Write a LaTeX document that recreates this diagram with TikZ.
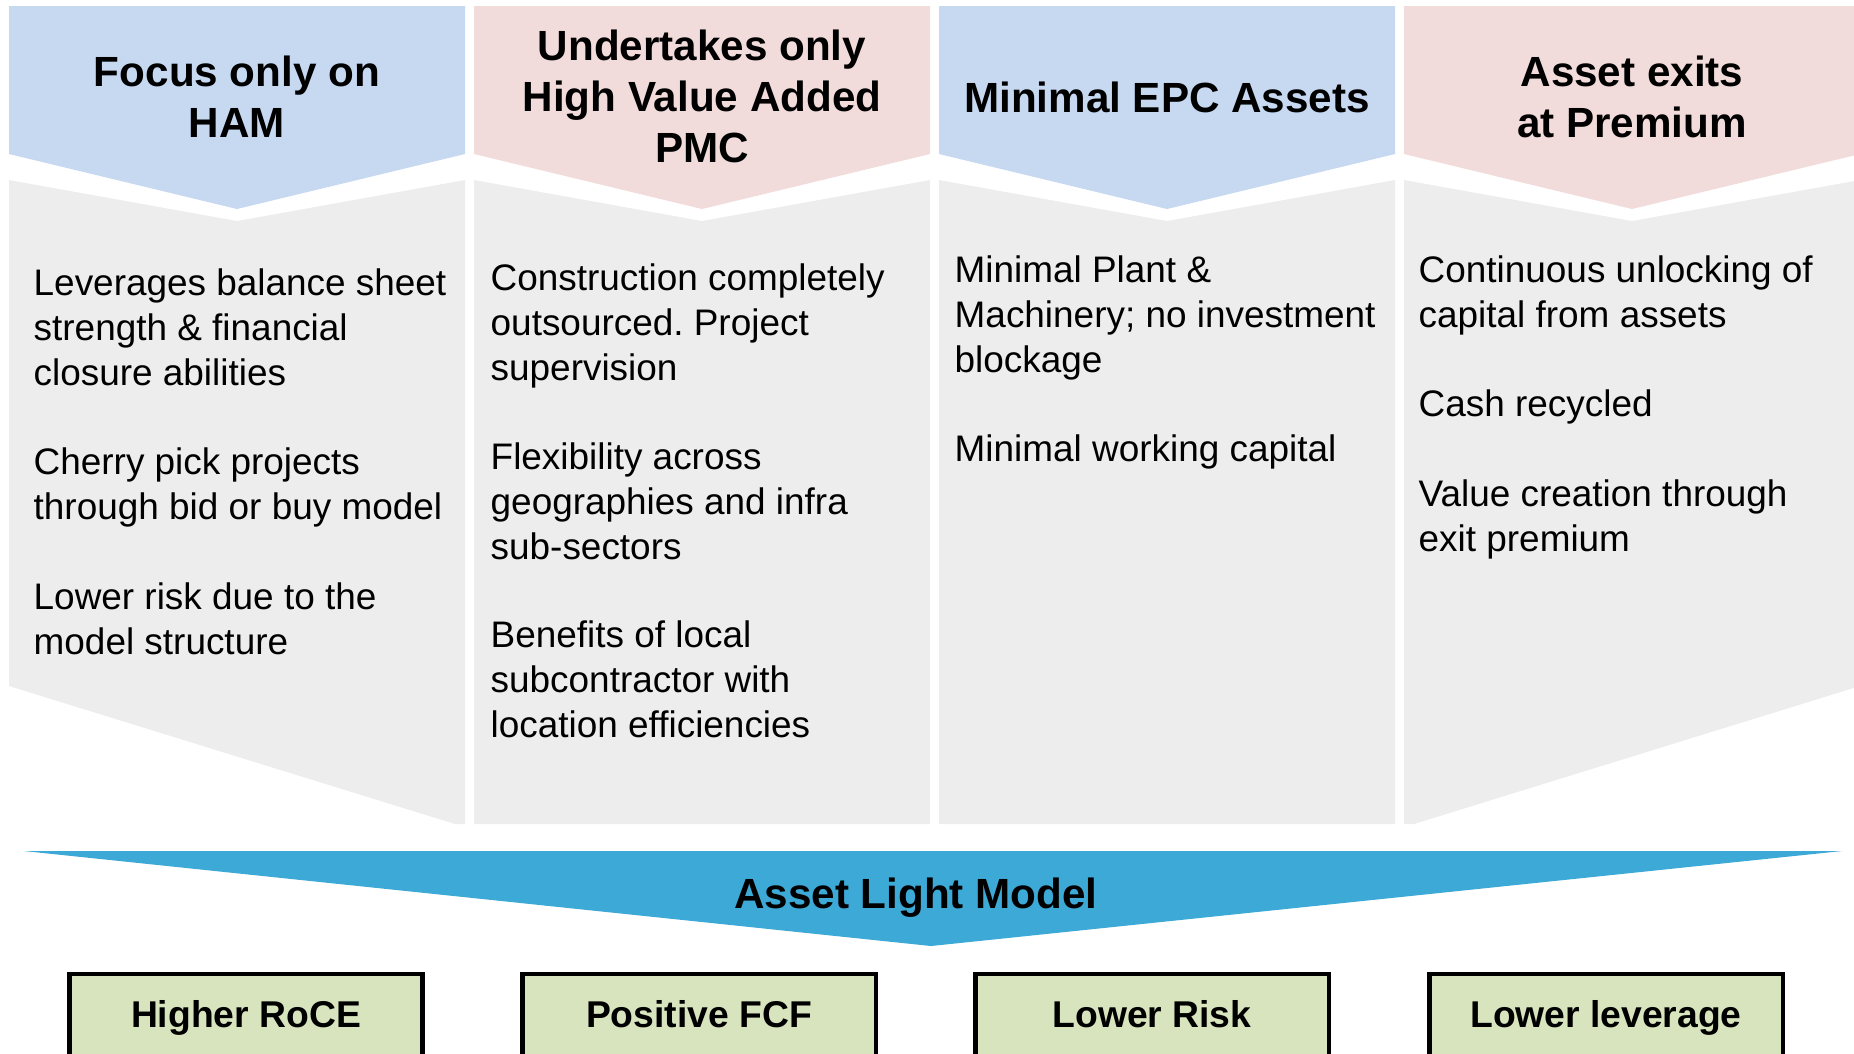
\documentclass[tikz,border=0pt]{standalone}
\usepackage{fontspec}
\setmainfont{Liberation Sans}

\begin{document}
\frenchspacing
\begin{tikzpicture}[x=0.01cm, y=-0.01cm]

\definecolor{headblue}{RGB}{198, 217, 241}
\definecolor{headpink}{RGB}{242, 220, 219}
\definecolor{panelgrey}{RGB}{237, 237, 237}
\definecolor{modelblue}{RGB}{61, 169, 214}
\definecolor{boxgreen}{RGB}{215, 228, 189}

\tikzset{
    headtext/.style={
        font=\bfseries\fontsize{12pt}{14.5pt}\selectfont,
        align=center, inner sep=0pt, text=black
    },
    bodytext/.style={
        font=\fontsize{10.5pt}{12.8pt}\selectfont,
        align=left, anchor=north west, inner sep=0pt, text=black
    },
    modeltext/.style={
        font=\bfseries\fontsize{12pt}{14.5pt}\selectfont, text=black
    },
    resultbox/.style={
        draw=black, line width=1.2pt, fill=boxgreen,
        minimum width=3.53cm, minimum height=0.86cm,
        text height=1.6ex, text depth=0.45ex,
        font=\bfseries\fontsize{10.6pt}{12.8pt}\selectfont
    }
}

\useasboundingbox (0,0) rectangle (1854,1053);
\clip (0,0) rectangle (1854,1053);

% --- GREY BODY PANELS ---
\fill[panelgrey] (9,180) -- (237,221) -- (465,180) -- (465,824) -- (455,824) -- (9,686) -- cycle;
\fill[panelgrey] (474,180) -- (702,221) -- (930,180) -- (930,824) -- (474,824) -- cycle;
\fill[panelgrey] (939,180) -- (1167,221) -- (1395,180) -- (1395,824) -- (939,824) -- cycle;
\fill[panelgrey] (1404,180) -- (1632,221) -- (1860,180) -- (1860,686) -- (1414,824) -- (1404,824) -- cycle;

% --- HEADER CHEVRONS ---
\fill[headblue] (9,6) -- (465,6) -- (465,154) -- (237,209) -- (9,154) -- cycle;
\fill[headpink] (474,6) -- (930,6) -- (930,154) -- (702,209) -- (474,154) -- cycle;
\fill[headblue] (939,6) -- (1395,6) -- (1395,154) -- (1167,209) -- (939,154) -- cycle;
\fill[headpink] (1404,6) -- (1860,6) -- (1860,154) -- (1632,209) -- (1404,154) -- cycle;

\node[headtext] (hamhead) at (237,97) {Focus only on\\HAM};
\node[headtext] (pmchead) at (702,96) {Undertakes only\\High Value Added\\PMC};
\node[headtext] (epchead) at (1167,97) {Minimal EPC Assets};
\node[headtext] (exithead) at (1632,97) {Asset exits\\at Premium};

% --- COLUMN TEXT ---
\node[bodytext] (hamtext) at (33,268) {Leverages balance sheet\\strength \& financial\\closure abilities\\[12.6pt]
    Cherry pick projects\\through bid or buy model\\[12.6pt]
    Lower risk due to the\\model structure};
\node[bodytext] (pmctext) at (490,263) {Construction completely\\outsourced. Project\\supervision\\[12.4pt]
    Flexibility across\\geographies and infra\\sub-sectors\\[12.4pt]
    Benefits of local\\subcontractor with\\location efficiencies};
\node[bodytext] (epctext) at (954,255) {Minimal Plant \&\\Machinery; no investment\\blockage\\[12.6pt]
    Minimal working capital};
\node[bodytext] (exittext) at (1418,255) {Continuous unlocking of\\capital from assets\\[12.6pt]
    Cash recycled\\[12.6pt]
    Value creation through\\exit premium};

% --- ASSET LIGHT MODEL ARROW ---
\fill[modelblue] (24,851) -- (1842,851) -- (931,946) -- cycle;
\node[modeltext] (model) at (916,898) {Asset Light Model};

% --- OUTCOMES ---
\node[resultbox] (roce) at (246,1017) {Higher RoCE};
\node[resultbox] (fcf) at (699,1017) {Positive FCF};
\node[resultbox] (risk) at (1152,1017) {Lower Risk};
\node[resultbox] (leverage) at (1606,1017) {Lower leverage};

\end{tikzpicture}
\end{document}
